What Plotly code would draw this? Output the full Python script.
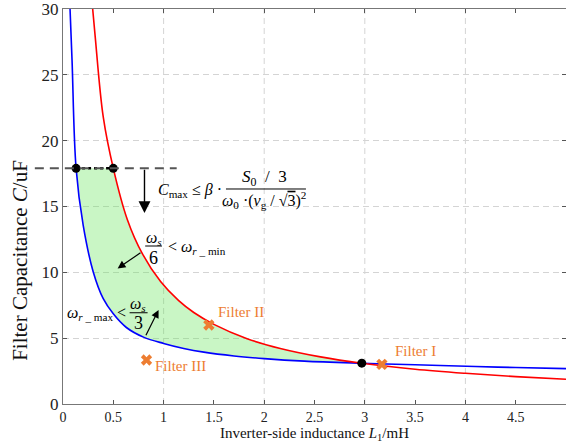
import plotly.graph_objects as go

# ---------------- data ----------------
# blue curve: omega_r_max < omega_s/3 boundary
blue_L = [0.07, 0.09, 0.13, 0.2, 0.3, 0.4, 0.5, 0.63, 0.8, 1.0, 1.2, 1.4, 1.7, 2.0, 2.4, 2.97, 3.5, 4.1, 4.5, 5.0]
blue_C = [30.0, 26.1, 17.9, 13.6, 10.05, 8.0, 6.85, 5.81, 5.08, 4.6, 4.22, 3.94, 3.65, 3.45, 3.26, 3.1, 2.98, 2.85, 2.77, 2.69]
# red curve: omega_s/6 < omega_r_min boundary
red_L = [0.295, 0.32, 0.4, 0.5, 0.64, 0.79, 0.97, 1.15, 1.3, 1.5, 1.83, 2.16, 2.56, 2.97, 3.5, 4.0, 4.5, 5.0]
red_C = [30.0, 27.9, 21.8, 17.9, 14.0, 11.4, 9.3, 7.85, 6.95, 6.05, 4.96, 4.22, 3.58, 3.1, 2.64, 2.33, 2.08, 1.88]
# C_max limit level
C_max = 17.9
cmax_line_L = [-0.28, 1.13]
# intersection points
dot_L = [0.13, 0.50, 2.97]
dot_C = [17.9, 17.9, 3.1]
# designed filters
filter_names = ["Filter I", "Filter II", "Filter III"]
filter_L = [3.17, 1.45, 0.83]
filter_C = [3.01, 6.0, 3.34]
filter_label_L = [3.5, 1.765, 1.166]
filter_label_C = [4.05, 7.0, 2.89]
# axes
x_range = [0, 5]
y_range = [0, 30]
x_ticks = [0, 0.5, 1, 1.5, 2, 2.5, 3, 3.5, 4, 4.5]
x_tick_text = ["0", "0.5", "1", "1.5", "2", "2.5", "3", "3.5", "4", "4.5"]
x_grid = [1, 2, 3, 4]
y_ticks = [0, 5, 10, 15, 20, 25, 30]

FONT = "Liberation Serif"
ORANGE = "#ED7D31"
NB = "\u00a0"

fig = go.Figure()

# green feasible region: blue (from C_max down to intersection) + red back up
fill_L = [l for l in blue_L if dot_L[0] <= l <= dot_L[2]] + [l for l in red_L if dot_L[1] <= l <= dot_L[2]][::-1]
fill_C = [c for l, c in zip(blue_L, blue_C) if dot_L[0] <= l <= dot_L[2]] + \
         [c for l, c in zip(red_L, red_C) if dot_L[1] <= l <= dot_L[2]][::-1]
fig.add_trace(go.Scatter(x=fill_L, y=fill_C, mode="lines", fill="toself",
                         fillcolor="rgba(100,230,90,0.35)", line=dict(width=0, shape="spline"),
                         hoverinfo="skip", showlegend=False))

fig.add_trace(go.Scatter(x=blue_L, y=blue_C, mode="lines", line=dict(color="#0000FF", width=1.6, shape="spline"),
                         showlegend=False))
fig.add_trace(go.Scatter(x=red_L, y=red_C, mode="lines", line=dict(color="#FF0000", width=1.6, shape="spline"),
                         showlegend=False))

# dotted line between the two top intersection points
fig.add_trace(go.Scatter(x=dot_L[:2], y=dot_C[:2], mode="lines",
                         line=dict(color="black", width=2.5, dash="dot"), showlegend=False))
fig.add_trace(go.Scatter(x=dot_L, y=dot_C, mode="markers",
                         marker=dict(color="black", size=9), showlegend=False, cliponaxis=False))
fig.add_trace(go.Scatter(x=filter_L, y=filter_C, mode="markers",
                         marker=dict(color=ORANGE, size=10, symbol="x", line=dict(width=0)),
                         showlegend=False))

# C_max dashed level line (extends left of the axis)
span = x_range[1] - x_range[0]
fig.add_shape(type="line", xref="paper", yref="y",
              x0=(cmax_line_L[0] - x_range[0]) / span, x1=(cmax_line_L[1] - x_range[0]) / span,
              y0=C_max, y1=C_max, line=dict(color="#555555", width=2, dash="9px,6px"), layer="above")

# integer vertical grid lines
for xv in x_grid:
    fig.add_shape(type="line", xref="x", yref="y domain", x0=xv, x1=xv, y0=0, y1=1,
                  line=dict(color="#d4d4d4", width=1, dash="6px,4px"), layer="below")

anns = []
tf = dict(family=FONT, size=16, color="black")
# formula for C_max
anns.append(dict(x=0.93, y=16.2, xref="x", yref="y", xanchor="left", yanchor="middle", showarrow=False,
                 text="<i>C</i><sub>max</sub>" + NB + "≤" + NB + "<i>β</i>" + NB + "·",
                 font=dict(family=FONT, size=16, color="black"), borderpad=0))
anns.append(dict(x=2.0, y=17.14, xref="x", yref="y", xanchor="center", yanchor="middle", showarrow=False,
                 text="<i>S</i><sub>0</sub>" + NB * 2 + "/" + NB * 2 + "3", font=dict(family=FONT, size=17, color="black")))
anns.append(dict(x=2.0, y=15.5, xref="x", yref="y", xanchor="center", yanchor="middle", showarrow=False,
                 text="<i>ω</i><sub>0</sub> ·(<i>v</i><sub>g</sub> / √<span style='text-decoration:overline'>3</span>)<sup>2</sup>",
                 font=tf, borderpad=0))
fig.add_shape(type="line", xref="x", yref="y", x0=1.62, x1=2.415, y0=16.33, y1=16.33,
              line=dict(color="black", width=1))
# omega_s/6 < omega_r_min
anns.append(dict(x=0.9, y=12.6, xref="x", yref="y", showarrow=False, text="<i>ω</i><sub><i>s</i></sub>", font=tf))
anns.append(dict(x=0.9, y=11.1, xref="x", yref="y", showarrow=False, text="6", font=dict(family=FONT, size=18, color="black")))
fig.add_shape(type="line", xref="x", yref="y", x0=0.817, x1=0.984, y0=12.0, y1=12.0,
              line=dict(color="black", width=1))
anns.append(dict(x=1.02, y=11.85, xref="x", yref="y", xanchor="left", showarrow=False,
                 text="< <i>ω</i><sub><i>r</i> _ min</sub>", font=tf))
# omega_r_max < omega_s/3
anns.append(dict(x=0.645, y=6.9, xref="x", yref="y", xanchor="right", showarrow=False,
                 text="<i>ω</i><sub><i>r</i> _ max</sub> <", font=tf))
anns.append(dict(x=0.75, y=7.55, xref="x", yref="y", showarrow=False, text="<i>ω</i><sub><i>s</i></sub>", font=tf))
anns.append(dict(x=0.75, y=6.15, xref="x", yref="y", showarrow=False, text="3", font=dict(family=FONT, size=18, color="black")))
fig.add_shape(type="line", xref="x", yref="y", x0=0.662, x1=0.841, y0=6.93, y1=6.93,
              line=dict(color="black", width=1))

# arrows
arrow_style = dict(xref="x", yref="y", axref="x", ayref="y", text="", showarrow=True,
                   arrowcolor="black", standoff=0)
anns.append(dict(x=0.81, y=14.5, ax=0.81, ay=C_max, arrowhead=2, arrowsize=1.7, arrowwidth=1.4, **arrow_style))
anns.append(dict(x=0.543, y=10.3, ax=0.785, ay=11.56, arrowhead=2, arrowsize=1.3, arrowwidth=1.2, **arrow_style))
anns.append(dict(x=0.95, y=7.14, ax=0.817, ay=5.11, arrowhead=2, arrowsize=1.3, arrowwidth=1.2, **arrow_style))

# filter labels
for name, lx, ly in zip(filter_names, filter_label_L, filter_label_C):
    anns.append(dict(x=lx, y=ly, xref="x", yref="y", showarrow=False, text=name,
                     font=dict(family=FONT, size=15, color=ORANGE)))

# y-axis title
anns.append(dict(x=-0.0855, y=0.365, xref="paper", yref="paper", xanchor="center", yanchor="middle",
                 showarrow=False, textangle=-90,
                 text="Filter Capacitance <i>C</i>/uF", font=dict(family=FONT, size=21, color="#111")))

fig.update_layout(
    width=566, height=447,
    margin=dict(l=63, r=0, t=9, b=43),
    plot_bgcolor="white", paper_bgcolor="white",
    annotations=anns,
    font=dict(family=FONT, color="#222"),
    xaxis=dict(range=x_range, tickvals=x_ticks, ticktext=x_tick_text, showgrid=False, zeroline=False,
               showline=True, linecolor="#777", linewidth=1.3, mirror="ticks", ticks="inside", ticklen=4,
               tickcolor="#555", tickfont=dict(family=FONT, size=14, color="#222"),
               ticklabeloverflow="allow",
               title=dict(text="Inverter-side inductance <i>L</i><sub>1</sub>/mH",
                          font=dict(family=FONT, size=15, color="#111"), standoff=2)),
    yaxis=dict(range=y_range, tickvals=y_ticks, showgrid=True, gridcolor="#d4d4d4", griddash="6px,4px",
               gridwidth=1, zeroline=False, showline=True, linecolor="#777", linewidth=1.3, mirror="ticks",
               ticks="inside", ticklen=4, tickcolor="#555", tickfont=dict(family=FONT, size=17, color="#222"),
               ticklabeloverflow="allow"),
)

fig.write_html("out.html", config={"displayModeBar": False},
               post_script="document.body.style.margin='0';document.body.style.overflow='hidden';")
